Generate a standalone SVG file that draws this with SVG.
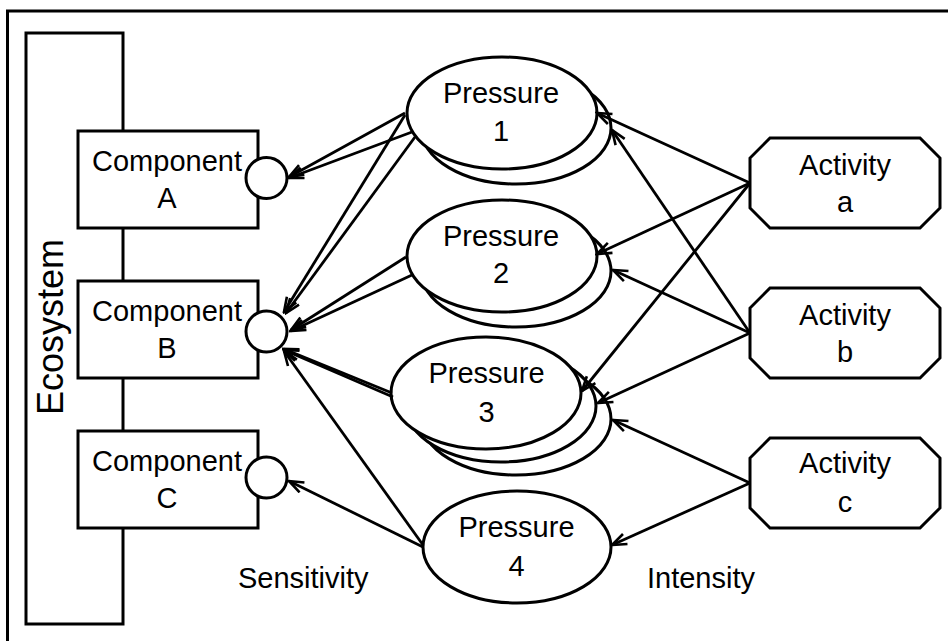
<svg xmlns="http://www.w3.org/2000/svg" width="948" height="641" viewBox="0 0 948 641">
<style>
.s{fill:#fff;stroke:#000;stroke-width:3}
.t{font-family:"Liberation Sans",Arial,sans-serif;font-size:29px;fill:#000;text-anchor:middle}
.c{stroke:#000;stroke-width:2.8;fill:none;marker-end:url(#arr)}
</style>
<defs>
<marker id="arr" viewBox="0 0 18 14" refX="16" refY="7" markerWidth="18" markerHeight="14" markerUnits="userSpaceOnUse" orient="auto">
<path d="M1.5,1.5 L16,7 L1.5,12.5" fill="none" stroke="#000" stroke-width="2.6"/>
</marker>
</defs>
<rect width="948" height="641" fill="#fff"/>
<rect x="7.5" y="11" width="970" height="660" fill="none" stroke="#000" stroke-width="3"/>

<g id="ecosystem">
<rect class="s" x="26" y="33" width="97" height="591"/>
<text class="t" style="font-size:36px" transform="translate(63,327) rotate(-90)">Ecosystem</text>
</g>

<g id="componentA">
<rect class="s" x="78" y="131" width="180" height="97"/>
<circle class="s" cx="266.5" cy="178" r="20.5"/>
<text class="t" x="167" y="171">Component</text>
<text class="t" x="167" y="208">A</text>
</g>
<g id="componentB">
<rect class="s" x="78" y="281" width="180" height="97"/>
<circle class="s" cx="266.5" cy="331.5" r="20.5"/>
<text class="t" x="167" y="321">Component</text>
<text class="t" x="167" y="358">B</text>
</g>
<g id="componentC">
<rect class="s" x="78" y="431" width="180" height="97"/>
<circle class="s" cx="266.5" cy="477.5" r="20.5"/>
<text class="t" x="167" y="471">Component</text>
<text class="t" x="167" y="508">C</text>
</g>

<g id="pressure1">
<ellipse class="s" cx="516" cy="128" rx="95" ry="56"/>
<ellipse class="s" cx="502" cy="113" rx="95" ry="56"/>
<text class="t" x="501" y="103">Pressure</text>
<text class="t" x="501" y="141">1</text>
</g>
<g id="pressure2">
<ellipse class="s" cx="516" cy="271" rx="95" ry="56"/>
<ellipse class="s" cx="502" cy="256" rx="95" ry="56"/>
<text class="t" x="501" y="246">Pressure</text>
<text class="t" x="501" y="283">2</text>
</g>
<g id="pressure3">
<ellipse class="s" cx="516" cy="419" rx="95" ry="56"/>
<ellipse class="s" cx="501" cy="406" rx="95" ry="56"/>
<ellipse class="s" cx="486" cy="393" rx="95" ry="56"/>
<text class="t" x="486.5" y="383">Pressure</text>
<text class="t" x="486.5" y="422">3</text>
</g>
<g id="pressure4">
<ellipse class="s" cx="517" cy="547" rx="94" ry="56"/>
<text class="t" x="516.5" y="537">Pressure</text>
<text class="t" x="516.5" y="576">4</text>
</g>

<g id="activityA">
<polygon class="s" points="770,138 920,138 940,158 940,208 920,228 770,228 750,208 750,158"/>
<text class="t" x="845" y="175">Activity</text>
<text class="t" x="845" y="212">a</text>
</g>
<g id="activityB">
<polygon class="s" points="770,288 920,288 940,308 940,358 920,378 770,378 750,358 750,308"/>
<text class="t" x="845" y="325">Activity</text>
<text class="t" x="845" y="362">b</text>
</g>
<g id="activityC">
<polygon class="s" points="770,438 920,438 940,458 940,508 920,528 770,528 750,508 750,458"/>
<text class="t" x="845" y="473">Activity</text>
<text class="t" x="845" y="512">c</text>
</g>

<g id="labels">
<text class="t" style="text-anchor:start" x="238" y="588">Sensitivity</text>
<text class="t" style="text-anchor:start" x="647" y="588">Intensity</text>
</g>

<g id="connectors">
<line class="c" x1="405" y1="113" x2="289" y2="177"/>
<line class="c" x1="412" y1="132" x2="289" y2="178"/>
<line class="c" x1="405" y1="115" x2="284" y2="312"/>
<line class="c" x1="415" y1="137" x2="286" y2="313"/>
<line class="c" x1="406" y1="257" x2="291" y2="330"/>
<line class="c" x1="412" y1="275" x2="291" y2="331"/>
<line class="c" x1="392" y1="393" x2="284" y2="349"/>
<line class="c" x1="393" y1="397" x2="284" y2="350"/>
<line class="c" x1="423" y1="545" x2="284" y2="351"/>
<line class="c" x1="423" y1="547" x2="289" y2="481"/>
<line class="c" x1="750" y1="183" x2="597" y2="113"/>
<line class="c" x1="750" y1="183" x2="597" y2="254"/>
<line class="c" x1="750" y1="183" x2="582" y2="391"/>
<line class="c" x1="750" y1="333" x2="612" y2="130"/>
<line class="c" x1="750" y1="333" x2="613" y2="270"/>
<line class="c" x1="750" y1="333" x2="598" y2="403"/>
<line class="c" x1="750" y1="483" x2="613" y2="420"/>
<line class="c" x1="750" y1="483" x2="612" y2="545"/>
</g>
</svg>
